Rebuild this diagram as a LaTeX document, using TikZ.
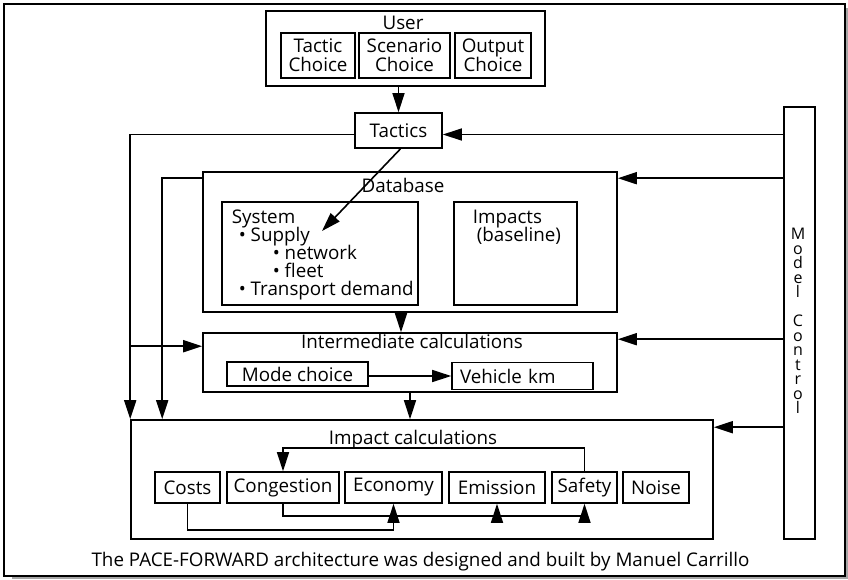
\documentclass[tikz,border=0pt]{standalone}
\usepackage{fontspec}
\setmainfont{Open Sans}
\usetikzlibrary{arrows.meta}

\begin{document}
\begin{tikzpicture}[x=1pt, y=-1pt, line width=1.6pt,
  font=\fontsize{18.8}{19}\selectfont,
  box/.style={draw, inner sep=0pt},
  lab/.style={anchor=base, inner sep=0pt},
  item/.style={anchor=base west, inner sep=0pt},
  arr/.style={-{Triangle[length=19pt,width=12pt]}}]
\useasboundingbox (0,0) rectangle (848,579);
% frame and shadow
\fill[gray!70] (12,8) rectangle (848,579);
\draw[line width=2pt, fill=white] (4,4) rectangle (845,576);
% user
\node[box, minimum width=279pt, minimum height=75pt] (user) at (405.5,48.5) {};
\node[lab] (userlab) at (403,29) {User};
\foreach \nm/\cx/\w/\top/\bot in {tchoice/318/74/Tactic/Choice,
    schoice/404.5/91/Scenario/Choice, ochoice/493/76/Output/Choice}
  \node[box, minimum width=\w pt, minimum height=45pt, align=center] (\nm) at (\cx,55.5) {\top\\\bot};
\node[box, minimum width=87pt, minimum height=35pt] (tac) at (398.5,130.5) {Tactics};
% database
\node[box, minimum width=414pt, minimum height=140pt] (db) at (410,242) {};
\node[lab] (dblab) at (403,192) {Database};
\node[box, minimum width=196pt, minimum height=103pt] (sys) at (320,253.5) {};
\foreach \nm/\cx/\cy/\txt in {sysl1/231/223/System, sysl2/238/241/\textbullet\ Supply,
    sysl3/272/259/\textbullet\ network, sysl4/272/277/\textbullet\ fleet,
    sysl5/238/295/\textbullet\ Transport demand}
  \node[item] (\nm) at (\cx,\cy) {\txt};
\node[box, minimum width=123pt, minimum height=103pt] (impb) at (515.5,253.5) {};
\node[item] (impbl1) at (472,223) {Impacts};
\node[item] (impbl2) at (476,241) {(baseline)};
% intermediate calculations
\node[box, minimum width=414pt, minimum height=59pt] (int) at (410,362.5) {};
\node[lab] (intlab) at (412,348) {Intermediate calculations};
\node[box, minimum width=141pt, minimum height=24pt] (mode) at (297.5,374) {Mode choice};
\node[box, minimum width=141pt, minimum height=27pt, text width=125pt, align=left] (vkm) at (522.5,376) {Vehicle km};
% impact calculations
\node[box, minimum width=582pt, minimum height=119pt] (imp) at (422,479.5) {};
\node[lab] (implab) at (413,444) {Impact calculations};
\foreach \nm/\cx/\w/\txt in {costs/187.5/65/Costs, cong/283/112/Congestion,
    econ/393.5/97/Economy, emis/497/96/Emission, safe/584.5/65/Safety, noise/656/66/Noise}
  \node[box, minimum width=\w pt, minimum height=31pt] (\nm) at (\cx,487.5) {\txt};
% model control
\node[box, minimum width=31pt, minimum height=432pt] (mc) at (799.5,323) {};
\node[font=\fontsize{16}{14.5}\selectfont, align=center, inner sep=0pt] (mclab) at (798,321)
  {M\\o\\d\\e\\l\\[14.5pt]C\\o\\n\\t\\r\\o\\l};
\node[lab] (cap) at (420.5,566) {The PACE-FORWARD architecture was designed and built by Manuel Carrillo};
% connectors
\coordinate (tace) at ([yshift=-4pt]tac.east);
\coordinate (tacw) at ([yshift=-4pt]tac.west);
\coordinate (dbin) at ([yshift=-7pt]db.north east);
\coordinate (intin) at ([yshift=-7pt]int.north east);
\coordinate (impin) at ([yshift=-8pt]imp.north east);
\coordinate (dbw) at ([yshift=-7pt]db.north west);
\coordinate (intw) at ([yshift=-14pt]int.north west);
\coordinate (impw) at ([xshift=32pt]imp.north west);
\coordinate (suppl) at (322,231);
\coordinate (busy) at (0,516);
\coordinate (busc) at (0,530);
\draw[arr] (tac.north |- user.south) -- (tac.north);
\foreach \c in {tace, dbin, intin, impin}
  \draw[arr] (\c -| mc.west) -- (\c);
\draw[arr] (tacw) -| (imp.north west);
\draw[arr] (intw -| imp.north west) -- (intw);
\draw[arr] (dbw) -| (impw);
\draw[arr] ([xshift=2pt]tac.south) -- (suppl);
\draw[arr] ([xshift=-9pt]db.south) -- ([xshift=-9pt]int.north);
\draw[arr] (int.south) -- (int.south |- imp.north);
\draw[arr] ([yshift=-2pt]mode.east) -- ([yshift=-2pt]mode.east -| vkm.west);
% feedback between impacts
\draw[arr] (safe.north) -- ++(0,-23) -| (cong.north);
\draw (cong.south) |- (safe.south |- busy);
\foreach \nm in {econ, emis, safe}
  \draw[arr] (\nm.south |- busy) -- (\nm.south);
\draw (costs.south) |- (econ.south |- busc) -- (econ.south |- busy);
\end{tikzpicture}
\end{document}
